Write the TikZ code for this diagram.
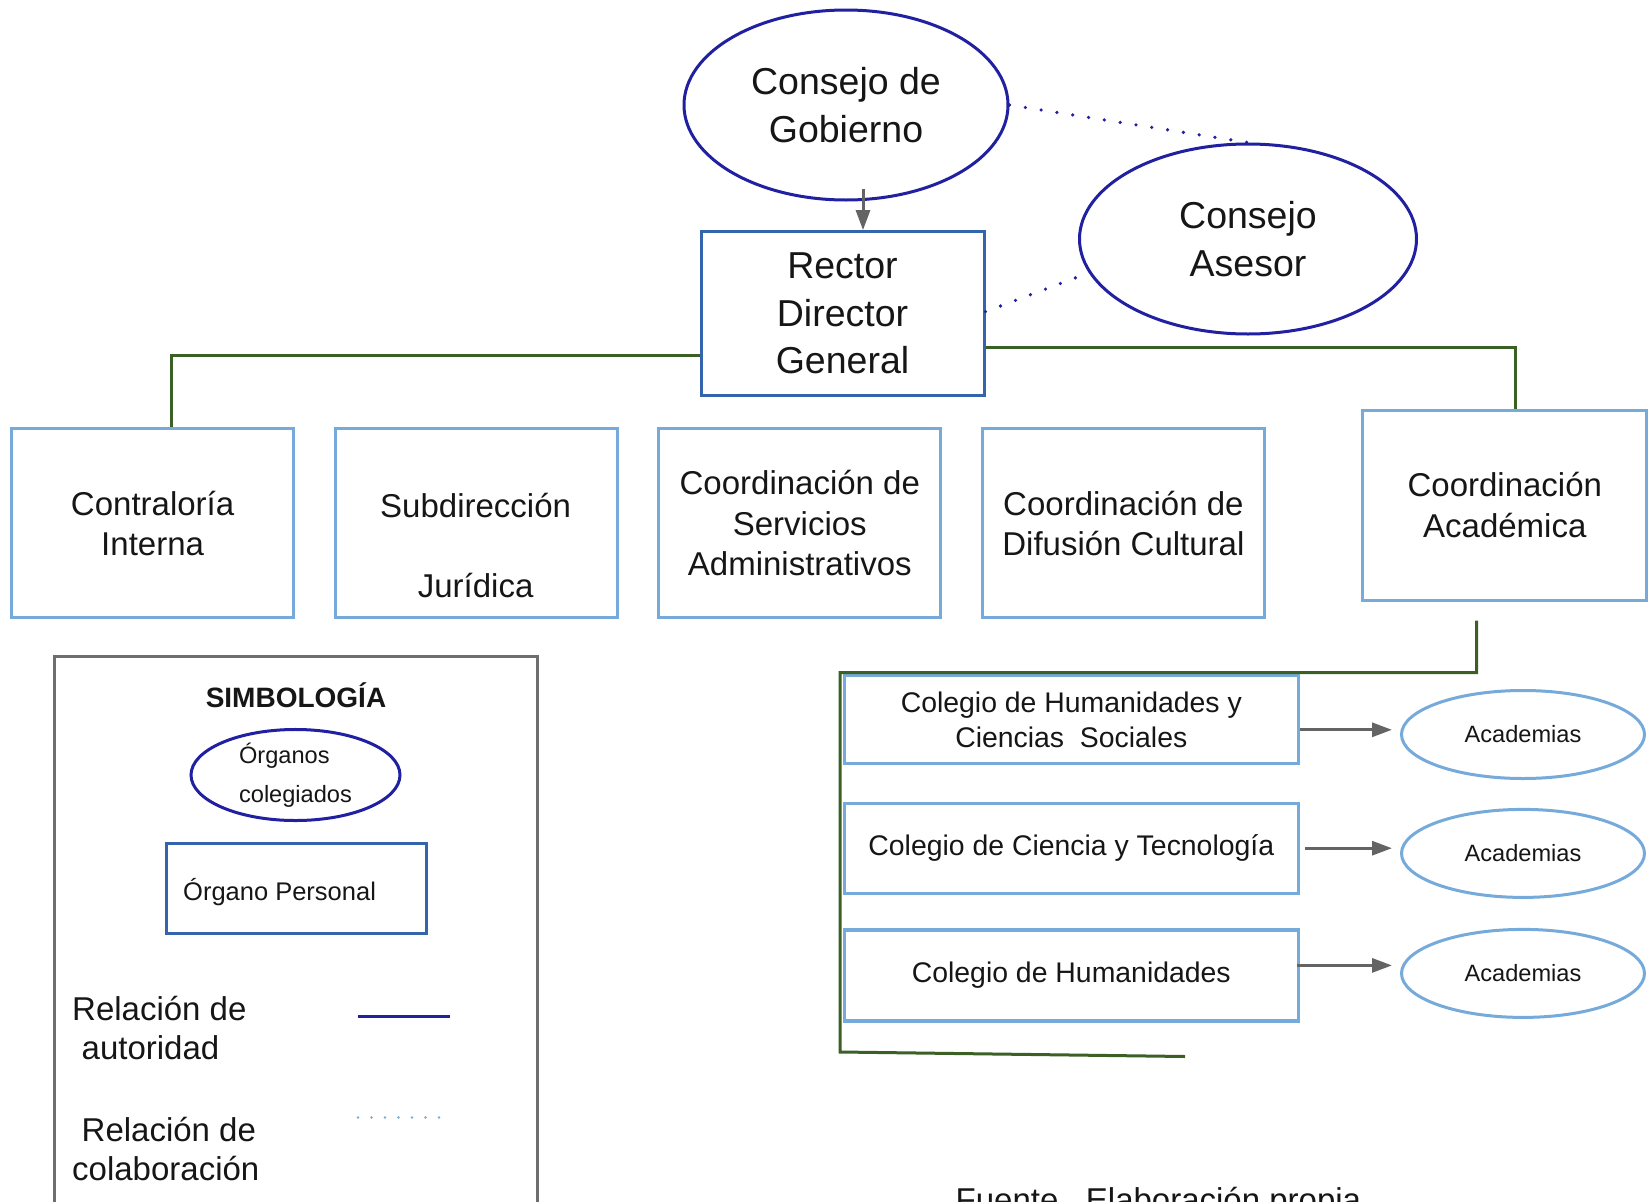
\documentclass[tikz,border=0pt]{standalone}
\usepackage{fontspec}
\setmainfont{Liberation Sans}
\usetikzlibrary{shapes.geometric,arrows.meta}

\definecolor{navyline}{RGB}{32,32,160}
\definecolor{rectorblue}{RGB}{52,100,172}
\definecolor{paleblue}{RGB}{118,170,218}
\definecolor{authgreen}{RGB}{58,96,38}
\definecolor{arrowgray}{RGB}{100,100,100}
\definecolor{framegray}{RGB}{110,110,110}
\definecolor{inkblack}{RGB}{22,22,22}

\newcommand{\fsz}[2]{\fontsize{#1}{#2}\selectfont}

\begin{document}
\begin{tikzpicture}[x=1pt,y=-1pt,
  every node/.style={text=inkblack},
  council/.style={ellipse,draw=navyline,line width=3pt,inner sep=0pt,
    align=center,font=\fsz{37.5}{48.5}},
  rectorbox/.style={rectangle,draw=rectorblue,line width=3pt,inner sep=0pt,
    align=center,font=\fsz{37.5}{47.5},minimum width=283pt,minimum height=164pt},
  unitbox/.style={rectangle,draw=paleblue,line width=3pt,inner sep=0pt,
    align=center,font=\fsz{33}{40.5},minimum width=282pt,minimum height=189pt},
  collegebox/.style={rectangle,draw=paleblue,line width=3.2pt,inner sep=0pt,
    align=center,font=\fsz{28.4}{35},minimum width=454pt,minimum height=89pt},
  academy/.style={ellipse,draw=paleblue,line width=3pt,inner sep=0pt,
    font=\fsz{23.6}{28},minimum width=243pt,minimum height=88pt},
  authline/.style={draw=authgreen,line width=3pt},
  collab/.style={draw=navyline,line width=3.6pt,line cap=round,
    dash pattern=on 0pt off 16pt},
  grayarrow/.style={draw=arrowgray,line width=3pt,
    -{Triangle[length=20pt,width=14pt]}},
  plain/.style={inner sep=0pt,font=\fsz{33}{39}}
]
\useasboundingbox (0,0) rectangle (1650,1202);
\fill[white] (0,0) rectangle (1650,1202);

% governing bodies and head of the institution
\node[council,minimum width=324pt,minimum height=190pt] (gob) at (846,105) {Consejo de\\Gobierno};
\node[council,minimum width=337pt,minimum height=190pt] (ase) at (1248,239) {Consejo\\Asesor};
\node[rectorbox] (rector) at (842.5,313.6) {Rector\\Director\\General};

% first level units
\node[unitbox] (contra) at (152.6,523.4) {Contraloría\\Interna};
\node[unitbox] (subdir) at (476.2,523.4) {};
\node[plain,align=center] (subdirtext) at (475.6,546) {Subdirección\\[41pt]Jurídica};
\node[unitbox] (servadm) at (799.8,523.4) {Coordinación de\\Servicios\\Administrativos};
\node[unitbox] (difus) at (1123.4,523.4) {Coordinación de\\Difusión Cultural};
\node[unitbox,minimum width=284pt,minimum height=190pt] (coacad) at (1504.8,505) {Coordinación\\Académica};

% colleges and academies
\node[collegebox,minimum height=88pt] (colA) at (1071.3,719.8) {Colegio de Humanidades y\\Ciencias\ \ Sociales};
\node[collegebox,minimum height=90pt] (colB) at (1071.3,848.2) {Colegio de Ciencia y Tecnología};
\node[collegebox,minimum height=91pt] (colC) at (1071.3,975.4) {Colegio de Humanidades};
\node[academy] (acA) at (1523,734.5) {Academias};
\node[academy] (acB) at (1523,853.4) {Academias};
\node[academy] (acC) at (1523,973.4) {Academias};

% authority lines
\draw[authline] ([yshift=-42pt]rector.west) -| ([xshift=19pt]contra.north);
\draw[authline] ([yshift=-33.4pt]rector.east) -| ([xshift=10.2pt]coacad.north);
\coordinate (busA) at (1476.5,620.5);
\coordinate (busB) at (1476.5,672.5);
\coordinate (busC) at (840,672.5);
\coordinate (busD) at (840,1052);
\coordinate (busE) at (1185,1056.5);
\draw[authline,line join=miter] (busA) -- (busB) -- (busC) -- (busD) -- (busE);

% command and collaboration links
\draw[grayarrow] ([xshift=17pt,yshift=-84pt]gob.center) -- ([xshift=20.5pt]rector.north);
\draw[collab] (gob.east) -- (ase.north);
\draw[collab] ([yshift=2pt]rector.east) -- (ase.192);
\draw[grayarrow] ([yshift=-10pt]colA.east) -- ([xshift=-8pt,yshift=-10pt]colA.east -| acA.west);
\draw[grayarrow] ([xshift=5pt]colB.east) -- ([xshift=-8pt]colB.east -| acB.west);
\draw[grayarrow] ([xshift=-3pt,yshift=10pt]colC.east) -- ([xshift=-8pt,yshift=10pt]colC.east -| acC.west);

% legend
\draw[draw=framegray,line width=3pt] (54,656) rectangle (537,1215);
\node[inner sep=0pt,font=\bfseries\fsz{28}{33}] (legtitle) at (296,695.6) {SIMBOLOGÍA};
\node[ellipse,draw=navyline,line width=3pt,inner sep=0pt,minimum width=209pt,
  minimum height=88pt,align=left,font=\fsz{23.6}{39}] (legcoll) at (295.5,775)
  {Órganos\\colegiados};
\node[rectangle,draw=rectorblue,line width=3pt,minimum width=260pt,
  minimum height=90pt,inner sep=0pt] (legpers) at (296,888) {};
\node[inner sep=0pt,anchor=west,font=\fsz{25.5}{30}] (legperstext) at (183,892) {Órgano Personal};
\node[plain,align=left,anchor=north west] (legauth) at (72,996) {Relación de\\\hspace{9.5pt}autoridad};
\node[plain,align=left,anchor=north west] (legcollab) at (72,1117) {\hspace{9.5pt}Relación de\\colaboración};
\coordinate (la1) at (358,1016.5);
\coordinate (la2) at (450,1016.5);
\draw[draw=navyline,line width=3pt] (la1) -- (la2);
\coordinate (lb1) at (358,1117.5);
\coordinate (lb2) at (447,1117.5);
\draw[draw=paleblue,line width=2.6pt,line cap=round,dash pattern=on 0pt off 13.5pt] (lb1) -- (lb2);

% source note
\node[inner sep=0pt,anchor=base west,font=\fsz{33}{39}] (source) at (955.5,1211) {Fuente.\ \ Elaboración propia};
\end{tikzpicture}
\end{document}
